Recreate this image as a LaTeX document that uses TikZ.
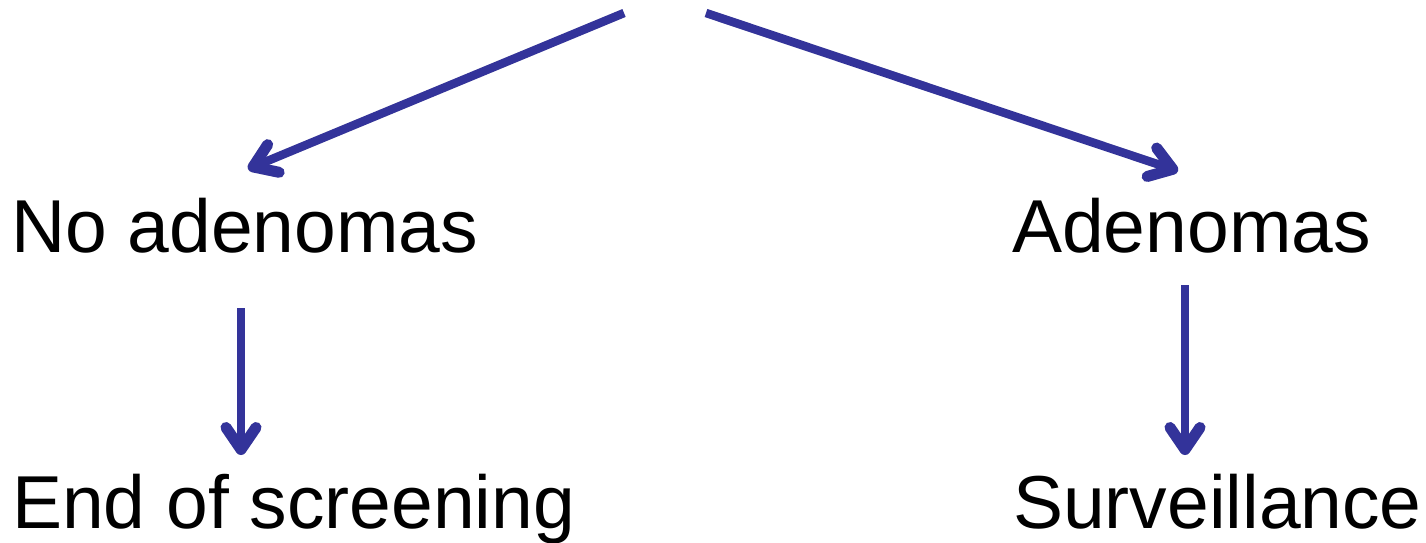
\documentclass[tikz,border=0pt]{standalone}
\usepackage{fontspec}
\setmainfont{Liberation Sans}
\usetikzlibrary{arrows.meta}
\definecolor{arrowblue}{HTML}{33339A}
\tikzset{
  label text/.style={anchor=base west, inner sep=0pt, font=\fontsize{75}{90}\selectfont},
  barb head/.style={-{Straight Barb[length=22pt, width=30pt, line width=11pt, round]}},
  flow/.style={draw=arrowblue, line width=8.5pt, barb head},
  flow shadow/.style={draw=black!35, opacity=0.3, line width=8.5pt, barb head},
}
\begin{document}
\begin{tikzpicture}[x=1pt, y=-1pt]
  \useasboundingbox (0,0) rectangle (1426,542);
  % text labels
  \node[label text] (noad) at (11,252) {No adenomas};
  \node[label text] (ad)   at (1012,252) {Adenomas};
  \node[label text] (end)  at (12,528) {End of screening};
  \node[label text] (surv) at (1013,528) {Surveillance};
  % arrow end points
  \coordinate (startL) at (624,13);
  \coordinate (startR) at (706,13);
  \coordinate (tipL) at (248,169);
  \coordinate (tipR) at (1178,171);
  \coordinate (fromNo) at (241,308);
  \coordinate (tipNo) at (241,455);
  \coordinate (fromAd) at (1185,285);
  \coordinate (tipAd) at (1185,455);
  % soft shadows
  \begin{scope}[shift={(2,3)}]
    \draw[flow shadow] (startL) -- (tipL);
    \draw[flow shadow] (startR) -- (tipR);
    \draw[flow shadow] (fromNo) -- (tipNo);
    \draw[flow shadow] (fromAd) -- (tipAd);
  \end{scope}
  % arrows
  \draw[flow] (startL) -- (tipL);
  \draw[flow] (startR) -- (tipR);
  \draw[flow] (fromNo) -- (tipNo);
  \draw[flow] (fromAd) -- (tipAd);
\end{tikzpicture}
\end{document}
